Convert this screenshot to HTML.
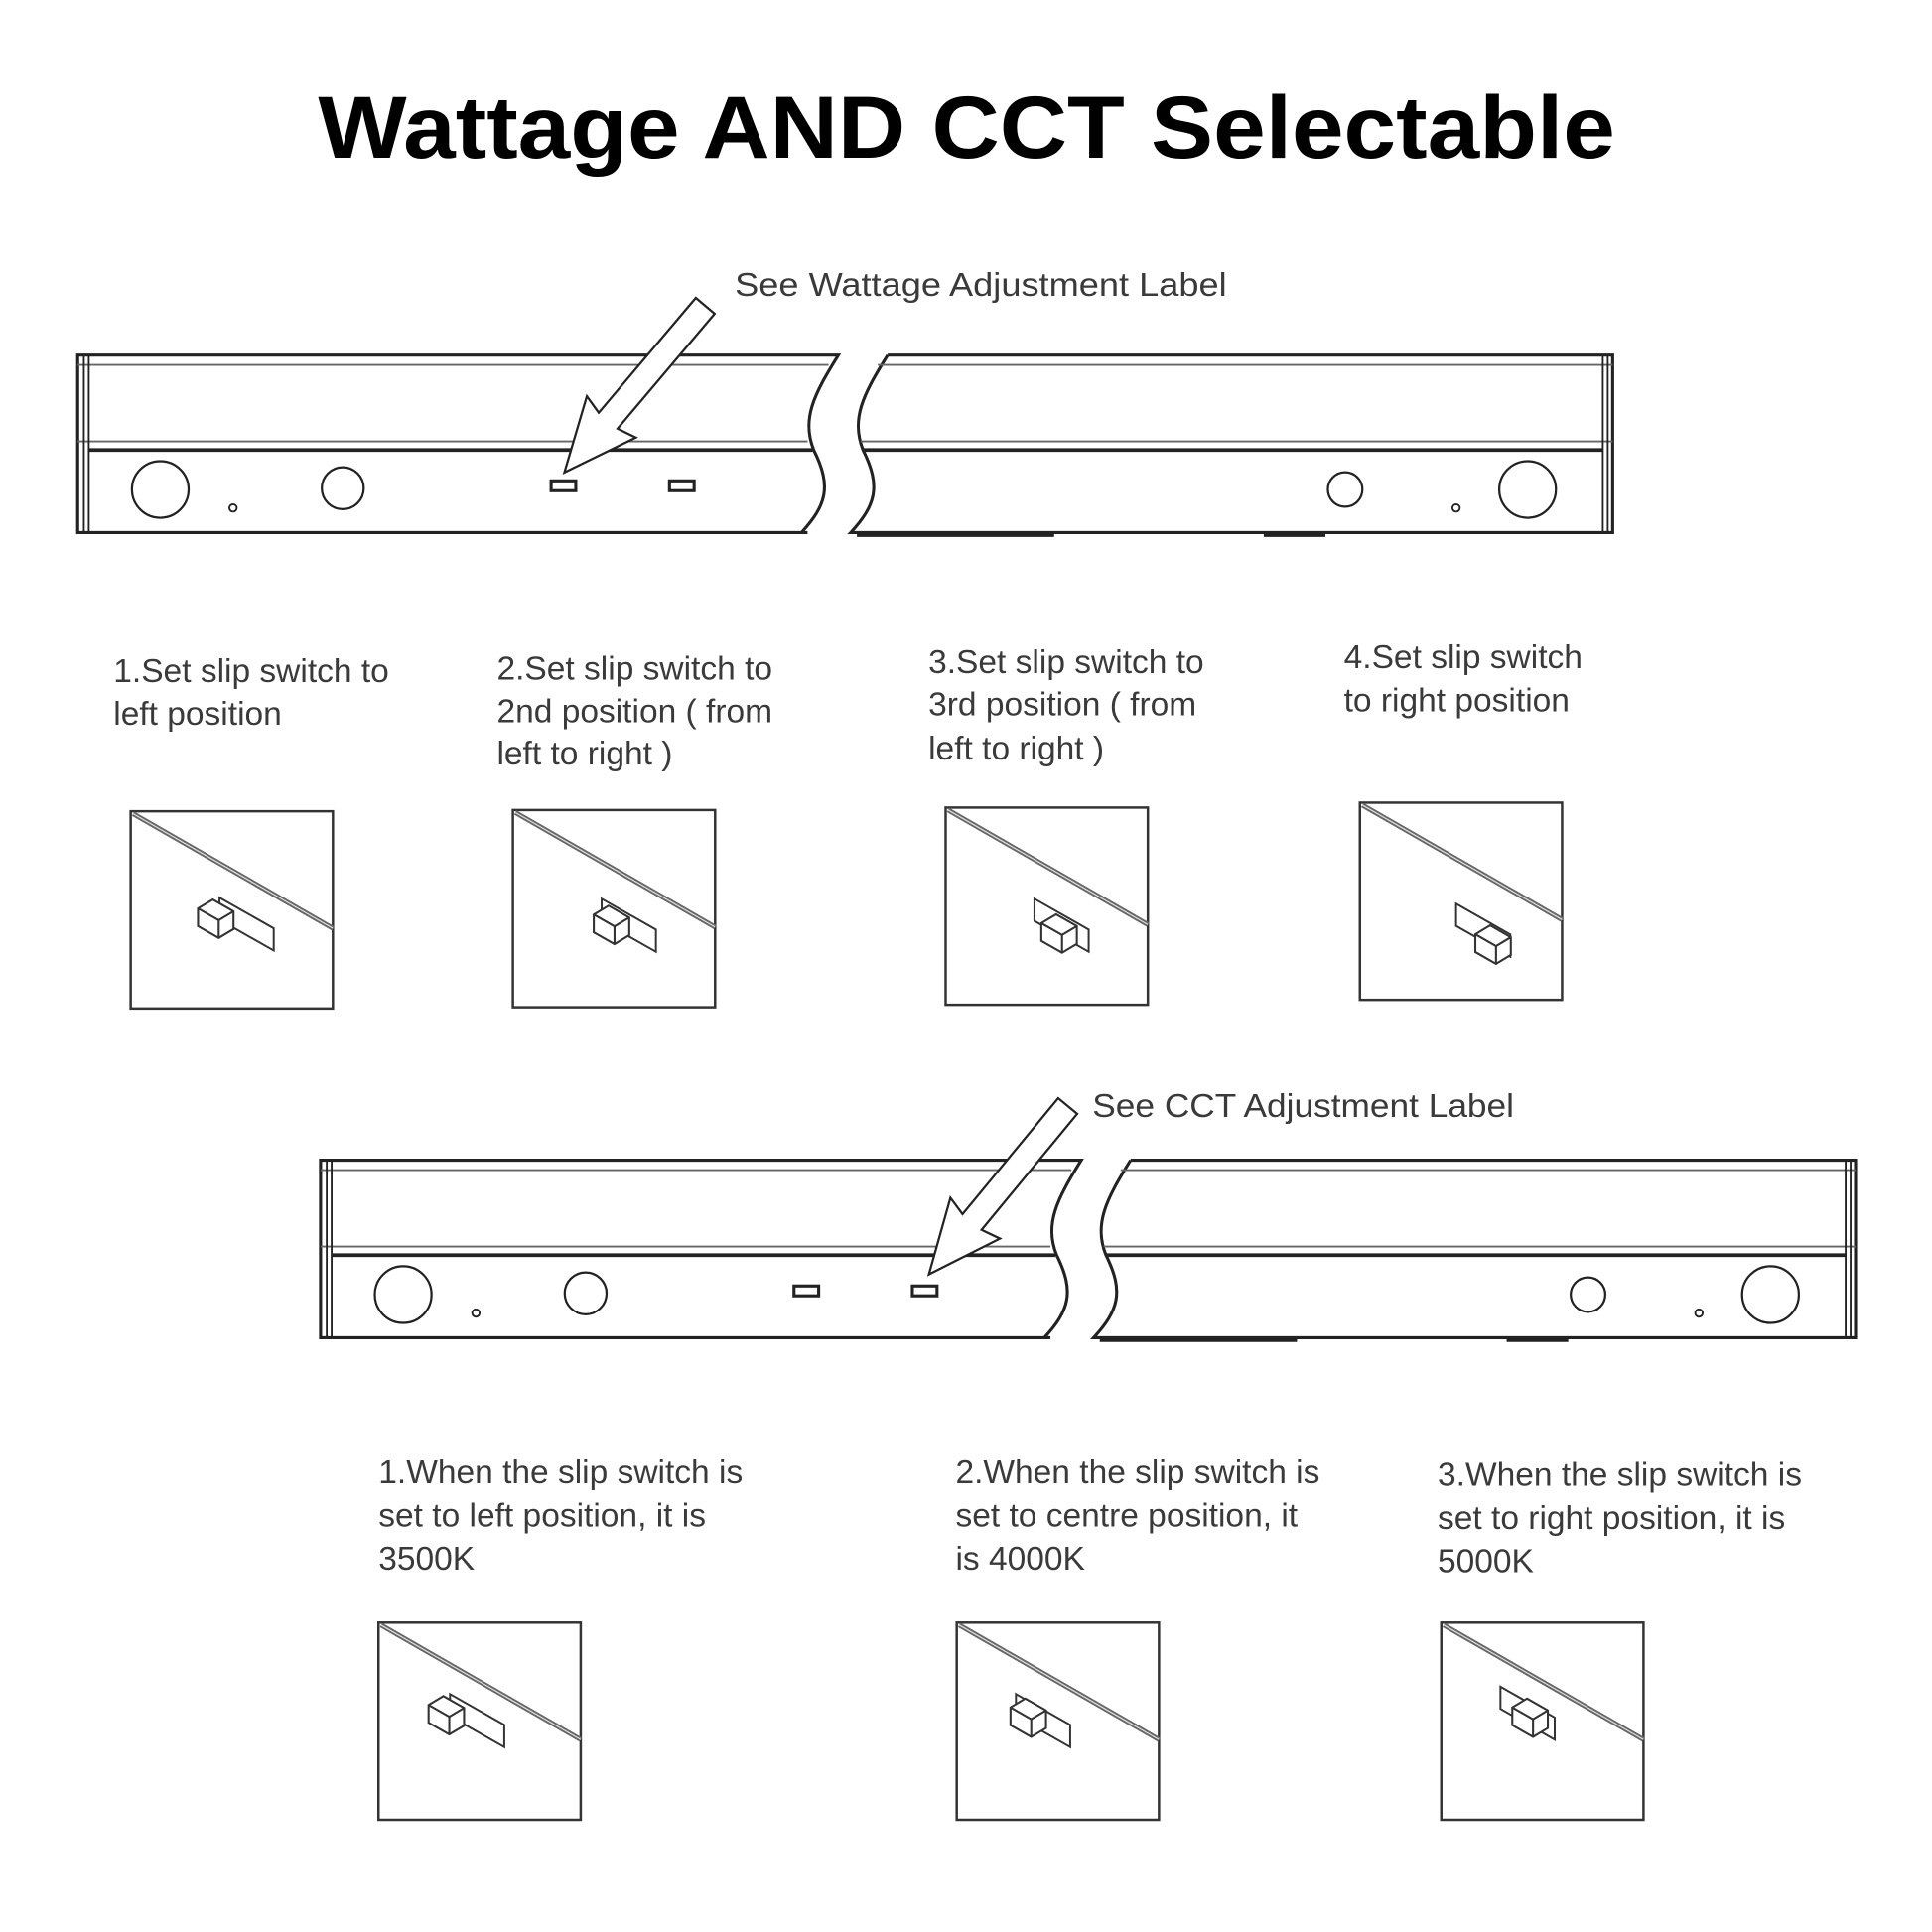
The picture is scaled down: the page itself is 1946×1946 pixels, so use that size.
<!DOCTYPE html>
<html><head><meta charset="utf-8"><style>
html,body{margin:0;padding:0;background:#fff;}
svg{display:block;}
.lbl{font-family:"Liberation Sans",sans-serif;font-size:27px;fill:#3a3a3a;}
</style></head><body>
<svg width="1946" height="1946" viewBox="0 0 1567 1567" xmlns="http://www.w3.org/2000/svg">
<defs>
<g id="bar" fill="none" stroke="#222">
  <path d="M655,432 L63,432 L63,288 L680,288 C660,320 650,340 660,365 C675,395 670,410 650,432" stroke-width="2.5" fill="#fff"/>
  <path d="M720,288 L1308,288 L1308,432 L690,432 C710,410 715,395 700,365 C690,340 700,320 720,288" stroke-width="2.5" fill="#fff"/>
  <line x1="63" y1="296" x2="672" y2="296" stroke-width="1.5" stroke="#666"/>
  <line x1="63" y1="358" x2="655" y2="358" stroke-width="1.5" stroke="#666"/>
  <line x1="72" y1="365" x2="659" y2="365" stroke-width="3"/>
  <line x1="712" y1="296" x2="1308" y2="296" stroke-width="1.5" stroke="#666"/>
  <line x1="698" y1="358" x2="1308" y2="358" stroke-width="1.5" stroke="#666"/>
  <line x1="700" y1="365" x2="1300" y2="365" stroke-width="3"/>
  <line x1="68" y1="288" x2="68" y2="432" stroke-width="1.5"/>
  <line x1="72" y1="288" x2="72" y2="432" stroke-width="1.5"/>
  <line x1="1300" y1="288" x2="1300" y2="432" stroke-width="1.5"/>
  <line x1="1304" y1="288" x2="1304" y2="432" stroke-width="1.5"/>
  <line x1="695" y1="434" x2="855" y2="434" stroke-width="3"/>
  <line x1="1025" y1="434" x2="1075" y2="434" stroke-width="3"/>
  <circle cx="130" cy="397" r="23" stroke-width="1.8"/>
  <circle cx="278" cy="396" r="17" stroke-width="1.8"/>
  <circle cx="189" cy="412" r="3" stroke-width="1.5"/>
  <rect x="447" y="390" width="20" height="8" stroke-width="2.5"/>
  <rect x="543" y="390" width="20" height="8" stroke-width="2.5"/>
  <circle cx="1091" cy="397" r="14" stroke-width="1.8"/>
  <circle cx="1239" cy="397" r="23" stroke-width="1.8"/>
  <circle cx="1181" cy="412" r="3" stroke-width="1.5"/>
</g>
<polygon id="arrow" points="0,-10 122,-10 118,-26 177,0 118,26 122,10 0,10" fill="#fff" stroke="#222" stroke-width="1.8"/>
<g id="box" fill="none" stroke="#333">
  <rect x="0" y="0" width="164" height="160" stroke-width="2"/>
  <line x1="2" y1="2" x2="164" y2="95" stroke="#666" stroke-width="4"/>
  <line x1="2" y1="2" x2="164" y2="95" stroke="#ddd" stroke-width="1"/>
</g>
<g id="slot" fill="none" stroke="#333" stroke-width="1.6">
  <polygon points="0,0 44,25 44,43 0,18" fill="#fff"/>
</g>
<g id="cube0" fill="#fff" stroke="#333" stroke-width="1.4">
  <polygon points="-12,-6 -2,-12 12,-4 12,8 2,14 -12,6"/>
  <polyline points="-12,-6 2,2 12,-4" fill="none"/>
  <line x1="2" y1="2" x2="2" y2="14"/>
</g>
<g id="cube"><use href="#cube0" transform="scale(1.2)"/></g>
</defs>

<text x="784" y="128" text-anchor="middle" font-family="Liberation Sans,sans-serif" font-weight="bold" font-size="72" fill="#000" textLength="1052" lengthAdjust="spacingAndGlyphs">Wattage AND CCT Selectable</text>

<text class="lbl" x="596" y="240" textLength="399" lengthAdjust="spacingAndGlyphs">See Wattage Adjustment Label</text>
<use href="#bar"/>
<use href="#arrow" transform="translate(572,248) rotate(130.2)"/>

<text class="lbl" x="92" y="553">1.Set slip switch to</text>
<text class="lbl" x="92" y="588">left position</text>
<text class="lbl" x="403" y="551">2.Set slip switch to</text>
<text class="lbl" x="403" y="586">2nd position ( from</text>
<text class="lbl" x="403" y="620">left to right )</text>
<text class="lbl" x="753" y="546">3.Set slip switch to</text>
<text class="lbl" x="753" y="580">3rd position ( from</text>
<text class="lbl" x="753" y="616">left to right )</text>
<text class="lbl" x="1090" y="542">4.Set slip switch</text>
<text class="lbl" x="1090" y="577">to right position</text>

<g transform="translate(106,658)"><use href="#box"/><use href="#slot" transform="translate(72,70)"/><use href="#cube" x="69" y="86"/></g>
<g transform="translate(416,657)"><use href="#box"/><use href="#slot" transform="translate(72,72)"/><use href="#cube" x="80" y="92"/></g>
<g transform="translate(767,655)"><use href="#box"/><use href="#slot" transform="translate(72,74)"/><use href="#cube" x="92" y="101"/></g>
<g transform="translate(1103,651)"><use href="#box"/><use href="#slot" transform="translate(78,82)"/><use href="#cube" x="108" y="114"/></g>

<text class="lbl" x="886" y="906" textLength="342" lengthAdjust="spacingAndGlyphs">See CCT Adjustment Label</text>
<use href="#bar" transform="translate(197,653)"/>
<use href="#arrow" transform="translate(866,897) rotate(129.5)"/>

<text class="lbl" x="307" y="1203">1.When the slip switch is</text>
<text class="lbl" x="307" y="1238">set to left position, it is</text>
<text class="lbl" x="307" y="1273">3500K</text>
<text class="lbl" x="775" y="1203">2.When the slip switch is</text>
<text class="lbl" x="775" y="1238">set to centre position, it</text>
<text class="lbl" x="775" y="1273">is 4000K</text>
<text class="lbl" x="1166" y="1205">3.When the slip switch is</text>
<text class="lbl" x="1166" y="1240">set to right position, it is</text>
<text class="lbl" x="1166" y="1275">5000K</text>

<g transform="translate(307,1316)"><use href="#box"/><use href="#slot" transform="translate(58,58)"/><use href="#cube" x="55" y="74"/></g>
<g transform="translate(776,1316)"><use href="#box"/><use href="#slot" transform="translate(48,58)"/><use href="#cube" x="58" y="76"/></g>
<g transform="translate(1169,1316)"><use href="#box"/><use href="#slot" transform="translate(48,52)"/><use href="#cube" x="72" y="76"/></g>
</svg>
</body></html>
